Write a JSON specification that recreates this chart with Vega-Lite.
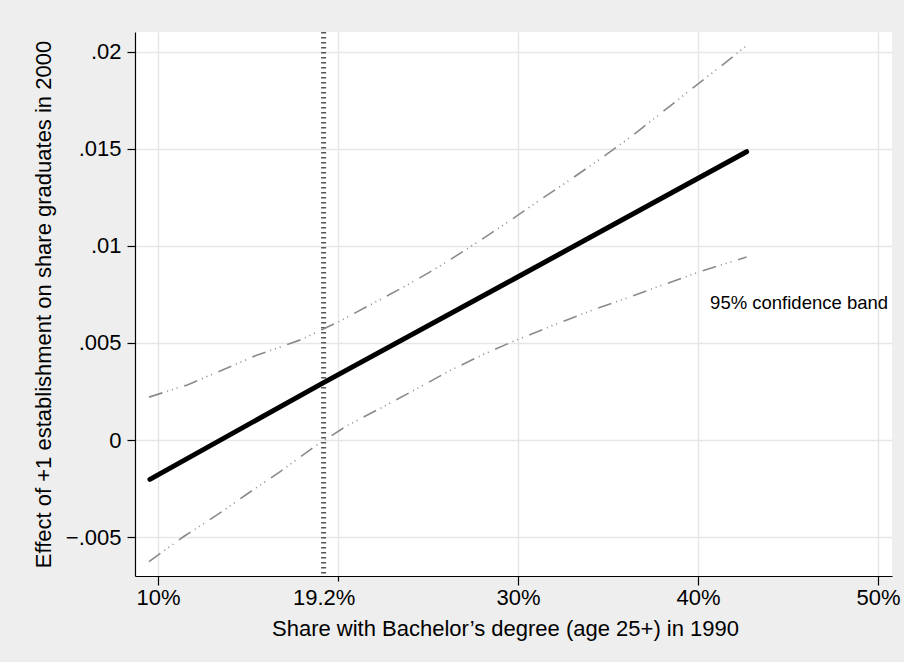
{
  "$schema": "https://vega.github.io/schema/vega-lite/v6.json",
  "width": 757,
  "height": 544,
  "autosize": {"type": "none"},
  "padding": {"left": 135, "top": 32, "right": 12, "bottom": 86},
  "background": "#eeeeee",
  "config": {
    "view": {"fill": "white", "stroke": null},
    "font": "Liberation Sans",
    "axis": {
      "domainColor": "black",
      "domainWidth": 1.2,
      "tickColor": "black",
      "tickWidth": 1.2,
      "labelColor": "black",
      "labelFont": "Liberation Sans",
      "labelFontSize": 22,
      "titleFont": "Liberation Sans",
      "titleFontSize": 22,
      "titleFontWeight": "normal",
      "titleColor": "black",
      "gridColor": "#e6e6e6",
      "gridWidth": 1.5
    }
  },
  "datasets": {
    "curves": [
      {"pct": 9.5, "effect": 0.00221, "series": "upper"},
      {"pct": 11.63, "effect": 0.00284, "series": "upper"},
      {"pct": 15.44, "effect": 0.00435, "series": "upper"},
      {"pct": 17.94, "effect": 0.00517, "series": "upper"},
      {"pct": 19.98, "effect": 0.00607, "series": "upper"},
      {"pct": 22.02, "effect": 0.00708, "series": "upper"},
      {"pct": 23.88, "effect": 0.008, "series": "upper"},
      {"pct": 25.73, "effect": 0.009, "series": "upper"},
      {"pct": 27.59, "effect": 0.0101, "series": "upper"},
      {"pct": 29.54, "effect": 0.0113, "series": "upper"},
      {"pct": 31.02, "effect": 0.01225, "series": "upper"},
      {"pct": 32.78, "effect": 0.01334, "series": "upper"},
      {"pct": 34.54, "effect": 0.01447, "series": "upper"},
      {"pct": 36.3, "effect": 0.01565, "series": "upper"},
      {"pct": 38.06, "effect": 0.01693, "series": "upper"},
      {"pct": 39.76, "effect": 0.01818, "series": "upper"},
      {"pct": 41.54, "effect": 0.01946, "series": "upper"},
      {"pct": 42.7, "effect": 0.02033, "series": "upper"},
      {"pct": 9.5, "effect": -0.00627, "series": "lower"},
      {"pct": 11.45, "effect": -0.00496, "series": "lower"},
      {"pct": 13.3, "effect": -0.00385, "series": "lower"},
      {"pct": 14.97, "effect": -0.00277, "series": "lower"},
      {"pct": 16.83, "effect": -0.0016, "series": "lower"},
      {"pct": 18.68, "effect": -0.00035, "series": "lower"},
      {"pct": 20.45, "effect": 0.00071, "series": "lower"},
      {"pct": 22.39, "effect": 0.00165, "series": "lower"},
      {"pct": 24.25, "effect": 0.00258, "series": "lower"},
      {"pct": 26.2, "effect": 0.00357, "series": "lower"},
      {"pct": 28.14, "effect": 0.00444, "series": "lower"},
      {"pct": 29.72, "effect": 0.00508, "series": "lower"},
      {"pct": 32.13, "effect": 0.00598, "series": "lower"},
      {"pct": 34.17, "effect": 0.00671, "series": "lower"},
      {"pct": 36.3, "effect": 0.0074, "series": "lower"},
      {"pct": 38.28, "effect": 0.00807, "series": "lower"},
      {"pct": 40.31, "effect": 0.00874, "series": "lower"},
      {"pct": 42.7, "effect": 0.00943, "series": "lower"},
      {"pct": 9.55, "effect": -0.00203, "series": "estimate"},
      {"pct": 19.2, "effect": 0.00296, "series": "estimate"},
      {"pct": 29.8, "effect": 0.00831, "series": "estimate"},
      {"pct": 42.7, "effect": 0.01486, "series": "estimate"}
    ],
    "reference": [{"pct": 19.2}],
    "notes": [{"pct": 50.56, "effect": 0.00677, "text": "95% confidence band"}]
  },
  "layer": [
    {
      "data": {"name": "reference"},
      "mark": {"type": "rule", "color": "#555555", "strokeWidth": 5, "strokeDash": [1.5, 3.5]},
      "encoding": {
        "x": {
          "field": "pct",
          "type": "quantitative",
          "scale": {"domain": [8.722, 50.778], "nice": false, "zero": false},
          "axis": {
            "values": [10, 19.2, 20, 30, 40, 50],
            "labelExpr": "datum.value == 20 ? '' : datum.value + '%'",
            "title": "Share with Bachelor’s degree (age 25+) in 1990",
            "tickSize": {"condition": {"test": "datum.value == 20", "value": 5}, "value": 9},
            "tickOpacity": {"condition": {"test": "datum.value == 19.2", "value": 0}, "value": 1},
            "gridOpacity": {"condition": {"test": "datum.value == 19.2", "value": 0}, "value": 1},
            "labelPadding": 2,
            "titlePadding": 10,
            "titleX": 370
          }
        }
      }
    },
    {
      "data": {"name": "curves"},
      "transform": [{"filter": "datum.series != 'estimate'"}],
      "mark": {"type": "line", "color": "#8a8a8a", "strokeWidth": 1.6, "strokeDash": [14, 5, 1, 4, 1, 4, 1, 7]},
      "encoding": {
        "x": {"field": "pct", "type": "quantitative"},
        "y": {
          "field": "effect",
          "type": "quantitative",
          "scale": {"domain": [-0.00701, 0.02103], "nice": false, "zero": false},
          "axis": {
            "values": [-0.005, 0, 0.005, 0.01, 0.015, 0.02],
            "labelExpr": "datum.value == 0 ? '0' : (datum.value < 0 ? '−' : '') + replace(format(abs(datum.value), '.3~f'), '0.', '.')",
            "title": "Effect of +1 establishment on share graduates in 2000",
            "tickSize": 8,
            "labelPadding": 6,
            "titlePadding": 10
          }
        },
        "detail": {"field": "series"}
      }
    },
    {
      "data": {"name": "curves"},
      "transform": [{"filter": "datum.series == 'estimate'"}],
      "mark": {"type": "line", "color": "black", "strokeWidth": 5, "strokeCap": "round"},
      "encoding": {
        "x": {"field": "pct", "type": "quantitative"},
        "y": {"field": "effect", "type": "quantitative"}
      }
    },
    {
      "data": {"name": "notes"},
      "mark": {"type": "text", "align": "right", "baseline": "alphabetic", "fontSize": 18.5, "color": "black", "font": "Liberation Sans"},
      "encoding": {
        "x": {"field": "pct", "type": "quantitative"},
        "y": {"field": "effect", "type": "quantitative"},
        "text": {"field": "text"}
      }
    }
  ]
}
